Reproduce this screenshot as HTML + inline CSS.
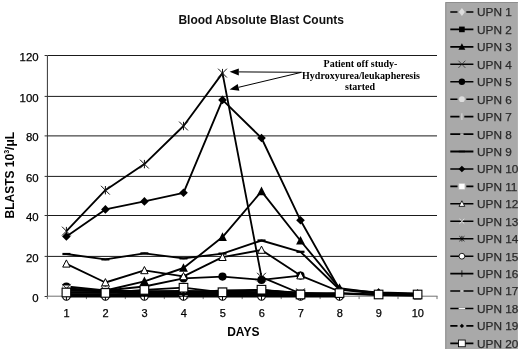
<!DOCTYPE html>
<html><head><meta charset="utf-8"><title>Blood Absolute Blast Counts</title>
<style>html,body{margin:0;padding:0;background:#fff}body{width:520px;height:351px;overflow:hidden}</style></head>
<body>
<svg width="520" height="351" viewBox="0 0 520 351" style="display:block">
<rect width="520" height="351" fill="#fff"/>
<line x1="47.4" x2="437.0" y1="256.4" y2="256.4" stroke="#1a1a1a" stroke-width="1"/>
<line x1="47.4" x2="437.0" y1="215.5" y2="215.5" stroke="#1a1a1a" stroke-width="1"/>
<line x1="47.4" x2="437.0" y1="176.4" y2="176.4" stroke="#1a1a1a" stroke-width="1"/>
<line x1="47.4" x2="437.0" y1="135.9" y2="135.9" stroke="#1a1a1a" stroke-width="1"/>
<line x1="47.4" x2="437.0" y1="96.4" y2="96.4" stroke="#1a1a1a" stroke-width="1"/>
<line x1="47.4" x2="437.0" y1="55.5" y2="55.5" stroke="#1a1a1a" stroke-width="1"/>
<line x1="47.4" x2="47.4" y1="55.8" y2="296.5" stroke="#333" stroke-width="1"/>
<line x1="47.4" x2="437.5" y1="296.2" y2="296.2" stroke="#707070" stroke-width="1"/>
<line x1="44.6" x2="47.4" y1="296.5" y2="296.5" stroke="#333" stroke-width="1"/>
<line x1="44.6" x2="47.4" y1="256.4" y2="256.4" stroke="#333" stroke-width="1"/>
<line x1="44.6" x2="47.4" y1="215.5" y2="215.5" stroke="#333" stroke-width="1"/>
<line x1="44.6" x2="47.4" y1="176.4" y2="176.4" stroke="#333" stroke-width="1"/>
<line x1="44.6" x2="47.4" y1="135.9" y2="135.9" stroke="#333" stroke-width="1"/>
<line x1="44.6" x2="47.4" y1="96.4" y2="96.4" stroke="#333" stroke-width="1"/>
<line x1="44.6" x2="47.4" y1="55.5" y2="55.5" stroke="#333" stroke-width="1"/>
<line x1="47.4" x2="47.4" y1="296.2" y2="299.1" stroke="#707070" stroke-width="1"/>
<line x1="86.4" x2="86.4" y1="296.2" y2="299.1" stroke="#707070" stroke-width="1"/>
<line x1="125.3" x2="125.3" y1="296.2" y2="299.1" stroke="#707070" stroke-width="1"/>
<line x1="164.3" x2="164.3" y1="296.2" y2="299.1" stroke="#707070" stroke-width="1"/>
<line x1="203.2" x2="203.2" y1="296.2" y2="299.1" stroke="#707070" stroke-width="1"/>
<line x1="242.2" x2="242.2" y1="296.2" y2="299.1" stroke="#707070" stroke-width="1"/>
<line x1="281.2" x2="281.2" y1="296.2" y2="299.1" stroke="#707070" stroke-width="1"/>
<line x1="320.1" x2="320.1" y1="296.2" y2="299.1" stroke="#707070" stroke-width="1"/>
<line x1="359.1" x2="359.1" y1="296.2" y2="299.1" stroke="#707070" stroke-width="1"/>
<line x1="398.0" x2="398.0" y1="296.2" y2="299.1" stroke="#707070" stroke-width="1"/>
<line x1="437.0" x2="437.0" y1="296.2" y2="299.1" stroke="#707070" stroke-width="1"/>
<g font-family="Liberation Sans, Arial, sans-serif" font-size="11" fill="#000" stroke="#000" stroke-width="0.25">
<text x="38.6" y="301.6" text-anchor="end" font-size="11.4">0</text>
<text x="38.6" y="261.5" text-anchor="end" font-size="11.4">20</text>
<text x="38.6" y="220.6" text-anchor="end" font-size="11.4">40</text>
<text x="38.6" y="181.5" text-anchor="end" font-size="11.4">60</text>
<text x="38.6" y="141.0" text-anchor="end" font-size="11.4">80</text>
<text x="38.6" y="101.5" text-anchor="end" font-size="11.4">100</text>
<text x="38.6" y="60.6" text-anchor="end" font-size="11.4">120</text>
<text x="66.6" y="317" text-anchor="middle">1</text>
<text x="105.6" y="317" text-anchor="middle">2</text>
<text x="144.6" y="317" text-anchor="middle">3</text>
<text x="183.7" y="317" text-anchor="middle">4</text>
<text x="222.7" y="317" text-anchor="middle">5</text>
<text x="261.7" y="317" text-anchor="middle">6</text>
<text x="300.7" y="317" text-anchor="middle">7</text>
<text x="339.7" y="317" text-anchor="middle">8</text>
<text x="378.8" y="317" text-anchor="middle">9</text>
<text x="417.8" y="317" text-anchor="middle">10</text>
</g>
<text x="261.2" y="24.2" text-anchor="middle" font-family="Liberation Sans, Arial, sans-serif" font-size="12" font-weight="bold" fill="#111">Blood Absolute Blast Counts</text>
<text x="243.3" y="336" text-anchor="middle" font-family="Liberation Sans, Arial, sans-serif" font-size="12" font-weight="bold" fill="#000">DAYS</text>
<text transform="translate(13.8,175.2) rotate(-90)" text-anchor="middle" font-family="Liberation Sans, Arial, sans-serif" font-size="12" font-weight="bold" fill="#000">BLASTS 10<tspan font-size="7" dy="-5">3</tspan><tspan dy="5">/μL</tspan></text>
<polyline points="66.4,294.1 105.4,294.5 144.4,294.5 183.5,293.9 222.5,294.5 261.5,294.1 300.5,294.9 339.5,295.5" fill="none" stroke="#000" stroke-width="1.85" stroke-linejoin="round"/>
<path d="M62.5 294.1L66.4 288.9L70.3 294.1L66.4 299.3Z" fill="#dcdcdc"/>
<path d="M101.5 294.5L105.4 289.3L109.3 294.5L105.4 299.7Z" fill="#dcdcdc"/>
<path d="M140.5 294.5L144.4 289.3L148.3 294.5L144.4 299.7Z" fill="#dcdcdc"/>
<path d="M179.6 293.9L183.5 288.7L187.4 293.9L183.5 299.1Z" fill="#dcdcdc"/>
<path d="M218.6 294.5L222.5 289.3L226.4 294.5L222.5 299.7Z" fill="#dcdcdc"/>
<path d="M257.6 294.1L261.5 288.9L265.4 294.1L261.5 299.3Z" fill="#dcdcdc"/>
<path d="M296.6 294.9L300.5 289.7L304.4 294.9L300.5 300.1Z" fill="#dcdcdc"/>
<path d="M335.6 295.5L339.5 290.3L343.4 295.5L339.5 300.7Z" fill="#dcdcdc"/>
<polyline points="66.4,289.3 105.4,290.7 144.4,291.9 183.5,291.7 222.5,291.7 261.5,290.5 300.5,292.9 339.5,293.5 378.6,295.1 417.6,295.9" fill="none" stroke="#000" stroke-width="1.85" stroke-linejoin="round"/>
<rect x="62.8" y="285.7" width="7.2" height="7.2" fill="#000"/>
<rect x="101.8" y="287.1" width="7.2" height="7.2" fill="#000"/>
<rect x="140.8" y="288.3" width="7.2" height="7.2" fill="#000"/>
<rect x="179.9" y="288.1" width="7.2" height="7.2" fill="#000"/>
<rect x="218.9" y="288.1" width="7.2" height="7.2" fill="#000"/>
<rect x="257.9" y="286.9" width="7.2" height="7.2" fill="#000"/>
<rect x="296.9" y="289.3" width="7.2" height="7.2" fill="#000"/>
<rect x="335.9" y="289.9" width="7.2" height="7.2" fill="#000"/>
<rect x="375.0" y="291.5" width="7.2" height="7.2" fill="#000"/>
<rect x="414.0" y="292.3" width="7.2" height="7.2" fill="#000"/>
<polyline points="66.4,290.5 105.4,290.5 144.4,281.3 183.5,268.0 222.5,237.1 261.5,191.4 300.5,240.7 339.5,288.1 378.6,293.1 417.6,294.1" fill="none" stroke="#000" stroke-width="1.85" stroke-linejoin="round"/>
<path d="M62.0 294.3L66.4 285.7L70.8 294.3Z" fill="#000"/>
<path d="M101.0 294.3L105.4 285.7L109.8 294.3Z" fill="#000"/>
<path d="M140.0 285.1L144.4 276.5L148.8 285.1Z" fill="#000"/>
<path d="M179.1 271.8L183.5 263.2L187.9 271.8Z" fill="#000"/>
<path d="M218.1 240.9L222.5 232.3L226.9 240.9Z" fill="#000"/>
<path d="M257.1 195.2L261.5 186.6L265.9 195.2Z" fill="#000"/>
<path d="M296.1 244.5L300.5 235.9L304.9 244.5Z" fill="#000"/>
<path d="M335.1 291.9L339.5 283.3L343.9 291.9Z" fill="#000"/>
<path d="M374.2 296.9L378.6 288.3L383.0 296.9Z" fill="#000"/>
<path d="M413.2 297.9L417.6 289.3L422.0 297.9Z" fill="#000"/>
<polyline points="66.4,231.1 105.4,190.2 144.4,164.1 183.5,126.0 222.5,73.1 261.5,277.2 300.5,293.5" fill="none" stroke="#000" stroke-width="1.85" stroke-linejoin="round"/>
<path d="M62.0 226.7L70.8 235.5M62.0 235.5L70.8 226.7M66.4 226.9L66.4 235.3" stroke="#111" stroke-width="1" fill="none"/>
<path d="M101.0 185.8L109.8 194.6M101.0 194.6L109.8 185.8M105.4 186.0L105.4 194.4" stroke="#111" stroke-width="1" fill="none"/>
<path d="M140.0 159.7L148.8 168.5M140.0 168.5L148.8 159.7M144.4 159.9L144.4 168.3" stroke="#111" stroke-width="1" fill="none"/>
<path d="M179.1 121.6L187.9 130.4M179.1 130.4L187.9 121.6M183.5 121.8L183.5 130.2" stroke="#111" stroke-width="1" fill="none"/>
<path d="M218.1 68.7L226.9 77.5M218.1 77.5L226.9 68.7M222.5 68.9L222.5 77.3" stroke="#111" stroke-width="1" fill="none"/>
<path d="M257.1 272.8L265.9 281.6M257.1 281.6L265.9 272.8M261.5 273.0L261.5 281.4" stroke="#111" stroke-width="1" fill="none"/>
<path d="M296.1 289.1L304.9 297.9M296.1 297.9L304.9 289.1M300.5 289.3L300.5 297.7" stroke="#111" stroke-width="1" fill="none"/>
<polyline points="66.4,286.5 105.4,290.5 144.4,286.5 183.5,278.4 222.5,276.6 261.5,279.9 300.5,275.6" fill="none" stroke="#000" stroke-width="1.85" stroke-linejoin="round"/>
<circle cx="66.4" cy="286.5" r="4.1" fill="#000"/>
<circle cx="105.4" cy="290.5" r="4.1" fill="#000"/>
<circle cx="144.4" cy="286.5" r="4.1" fill="#000"/>
<circle cx="183.5" cy="278.4" r="4.1" fill="#000"/>
<circle cx="222.5" cy="276.6" r="4.1" fill="#000"/>
<circle cx="261.5" cy="279.9" r="4.1" fill="#000"/>
<circle cx="300.5" cy="275.6" r="4.1" fill="#000"/>
<polyline points="66.4,295.5 105.4,295.5 144.4,295.1 183.5,295.5 222.5,295.3 261.5,295.5 300.5,295.5" fill="none" stroke="#000" stroke-width="1.85" stroke-linejoin="round"/>
<circle cx="66.4" cy="295.5" r="3.7" fill="#dedede"/>
<circle cx="105.4" cy="295.5" r="3.7" fill="#dedede"/>
<circle cx="144.4" cy="295.1" r="3.7" fill="#dedede"/>
<circle cx="183.5" cy="295.5" r="3.7" fill="#dedede"/>
<circle cx="222.5" cy="295.3" r="3.7" fill="#dedede"/>
<circle cx="261.5" cy="295.5" r="3.7" fill="#dedede"/>
<circle cx="300.5" cy="295.5" r="3.7" fill="#dedede"/>
<polyline points="66.4,290.1 105.4,291.3 144.4,293.7 183.5,292.5 222.5,293.5 261.5,292.5 300.5,294.5" fill="none" stroke="#000" stroke-width="1.85" stroke-linejoin="round"/>
<path d="M66.4 285.9L66.4 294.3" stroke="#e6e6e6" stroke-width="1.1" fill="none"/>
<path d="M105.4 287.1L105.4 295.5" stroke="#e6e6e6" stroke-width="1.1" fill="none"/>
<path d="M144.4 289.5L144.4 297.9" stroke="#e6e6e6" stroke-width="1.1" fill="none"/>
<path d="M183.5 288.3L183.5 296.7" stroke="#e6e6e6" stroke-width="1.1" fill="none"/>
<path d="M222.5 289.3L222.5 297.7" stroke="#e6e6e6" stroke-width="1.1" fill="none"/>
<path d="M261.5 288.3L261.5 296.7" stroke="#e6e6e6" stroke-width="1.1" fill="none"/>
<path d="M300.5 290.3L300.5 298.7" stroke="#e6e6e6" stroke-width="1.1" fill="none"/>
<polyline points="66.4,290.9 105.4,290.5 144.4,291.5 183.5,292.9 222.5,290.5 261.5,289.9 300.5,292.9 339.5,294.5" fill="none" stroke="#000" stroke-width="1.85" stroke-linejoin="round"/>
<path d="M64.3 290.9L68.5 290.9" stroke="#f4f4f4" stroke-width="1.7" fill="none"/>
<path d="M103.3 290.5L107.5 290.5" stroke="#f4f4f4" stroke-width="1.7" fill="none"/>
<path d="M142.3 291.5L146.5 291.5" stroke="#f4f4f4" stroke-width="1.7" fill="none"/>
<path d="M181.4 292.9L185.6 292.9" stroke="#f4f4f4" stroke-width="1.7" fill="none"/>
<path d="M220.4 290.5L224.6 290.5" stroke="#f4f4f4" stroke-width="1.7" fill="none"/>
<path d="M259.4 289.9L263.6 289.9" stroke="#f4f4f4" stroke-width="1.7" fill="none"/>
<path d="M298.4 292.9L302.6 292.9" stroke="#f4f4f4" stroke-width="1.7" fill="none"/>
<path d="M337.4 294.5L341.6 294.5" stroke="#f4f4f4" stroke-width="1.7" fill="none"/>
<polyline points="66.4,254.0 105.4,259.4 144.4,253.4 183.5,258.4 222.5,253.6 261.5,240.5 300.5,251.8 339.5,289.5 378.6,293.9 417.6,295.3" fill="none" stroke="#000" stroke-width="1.85" stroke-linejoin="round"/>
<path d="M62.4 254.0L70.4 254.0" stroke="#000" stroke-width="2.2" fill="none"/>
<path d="M101.4 259.4L109.4 259.4" stroke="#000" stroke-width="2.2" fill="none"/>
<path d="M140.4 253.4L148.4 253.4" stroke="#000" stroke-width="2.2" fill="none"/>
<path d="M179.5 258.4L187.5 258.4" stroke="#000" stroke-width="2.2" fill="none"/>
<path d="M218.5 253.6L226.5 253.6" stroke="#000" stroke-width="2.2" fill="none"/>
<path d="M257.5 240.5L265.5 240.5" stroke="#000" stroke-width="2.2" fill="none"/>
<path d="M296.5 251.8L304.5 251.8" stroke="#000" stroke-width="2.2" fill="none"/>
<path d="M335.5 289.5L343.5 289.5" stroke="#000" stroke-width="2.2" fill="none"/>
<path d="M374.6 293.9L382.6 293.9" stroke="#000" stroke-width="2.2" fill="none"/>
<path d="M413.6 295.3L421.6 295.3" stroke="#000" stroke-width="2.2" fill="none"/>
<polyline points="66.4,236.5 105.4,209.4 144.4,201.4 183.5,192.8 222.5,99.9 261.5,138.0 300.5,220.3 339.5,289.3 378.6,292.5 417.6,293.5" fill="none" stroke="#000" stroke-width="1.85" stroke-linejoin="round"/>
<path d="M62.1 236.5L66.4 232.2L70.7 236.5L66.4 240.8Z" fill="#000"/>
<path d="M101.1 209.4L105.4 205.1L109.7 209.4L105.4 213.7Z" fill="#000"/>
<path d="M140.1 201.4L144.4 197.1L148.7 201.4L144.4 205.7Z" fill="#000"/>
<path d="M179.2 192.8L183.5 188.5L187.8 192.8L183.5 197.1Z" fill="#000"/>
<path d="M218.2 99.9L222.5 95.6L226.8 99.9L222.5 104.2Z" fill="#000"/>
<path d="M257.2 138.0L261.5 133.7L265.8 138.0L261.5 142.3Z" fill="#000"/>
<path d="M296.2 220.3L300.5 216.0L304.8 220.3L300.5 224.6Z" fill="#000"/>
<path d="M335.2 289.3L339.5 285.0L343.8 289.3L339.5 293.6Z" fill="#000"/>
<path d="M374.3 292.5L378.6 288.2L382.9 292.5L378.6 296.8Z" fill="#000"/>
<path d="M413.3 293.5L417.6 289.2L421.9 293.5L417.6 297.8Z" fill="#000"/>
<polyline points="66.4,289.7 105.4,290.9 144.4,291.1 183.5,290.9 222.5,291.5 261.5,290.5 300.5,293.5 339.5,294.5" fill="none" stroke="#000" stroke-width="1.85" stroke-linejoin="round"/>
<rect x="62.5" y="285.8" width="7.8" height="7.8" fill="#fff" stroke="#bbb" stroke-width="0.8"/>
<rect x="101.5" y="287.0" width="7.8" height="7.8" fill="#fff" stroke="#bbb" stroke-width="0.8"/>
<rect x="140.5" y="287.2" width="7.8" height="7.8" fill="#fff" stroke="#bbb" stroke-width="0.8"/>
<rect x="179.6" y="287.0" width="7.8" height="7.8" fill="#fff" stroke="#bbb" stroke-width="0.8"/>
<rect x="218.6" y="287.6" width="7.8" height="7.8" fill="#fff" stroke="#bbb" stroke-width="0.8"/>
<rect x="257.6" y="286.6" width="7.8" height="7.8" fill="#fff" stroke="#bbb" stroke-width="0.8"/>
<rect x="296.6" y="289.6" width="7.8" height="7.8" fill="#fff" stroke="#bbb" stroke-width="0.8"/>
<rect x="335.6" y="290.6" width="7.8" height="7.8" fill="#fff" stroke="#bbb" stroke-width="0.8"/>
<polyline points="66.4,263.8 105.4,282.5 144.4,270.4 183.5,276.4 222.5,257.2 261.5,250.0 300.5,275.6 339.5,291.5" fill="none" stroke="#000" stroke-width="1.85" stroke-linejoin="round"/>
<path d="M62.7 267.1L66.4 259.9L70.1 267.1Z" fill="#fff" stroke="#000" stroke-width="1"/>
<path d="M101.7 285.8L105.4 278.6L109.1 285.8Z" fill="#fff" stroke="#000" stroke-width="1"/>
<path d="M140.7 273.7L144.4 266.5L148.1 273.7Z" fill="#fff" stroke="#000" stroke-width="1"/>
<path d="M179.8 279.7L183.5 272.5L187.2 279.7Z" fill="#fff" stroke="#000" stroke-width="1"/>
<path d="M218.8 260.5L222.5 253.3L226.2 260.5Z" fill="#fff" stroke="#000" stroke-width="1"/>
<path d="M257.8 253.3L261.5 246.1L265.2 253.3Z" fill="#fff" stroke="#000" stroke-width="1"/>
<path d="M296.8 278.9L300.5 271.7L304.2 278.9Z" fill="#fff" stroke="#000" stroke-width="1"/>
<path d="M335.8 294.8L339.5 287.6L343.2 294.8Z" fill="#fff" stroke="#000" stroke-width="1"/>
<polyline points="66.4,294.9 105.4,294.5 144.4,294.9 183.5,294.5 222.5,293.5 261.5,294.5 300.5,294.9" fill="none" stroke="#000" stroke-width="1.85" stroke-linejoin="round"/>
<path d="M63.4 291.9L69.4 297.9M63.4 297.9L69.4 291.9" stroke="#fff" stroke-width="1" fill="none"/>
<path d="M102.4 291.5L108.4 297.5M102.4 297.5L108.4 291.5" stroke="#fff" stroke-width="1" fill="none"/>
<path d="M141.4 291.9L147.4 297.9M141.4 297.9L147.4 291.9" stroke="#fff" stroke-width="1" fill="none"/>
<path d="M180.5 291.5L186.5 297.5M180.5 297.5L186.5 291.5" stroke="#fff" stroke-width="1" fill="none"/>
<path d="M219.5 290.5L225.5 296.5M219.5 296.5L225.5 290.5" stroke="#fff" stroke-width="1" fill="none"/>
<path d="M258.5 291.5L264.5 297.5M258.5 297.5L264.5 291.5" stroke="#fff" stroke-width="1" fill="none"/>
<path d="M297.5 291.9L303.5 297.9M297.5 297.9L303.5 291.9" stroke="#fff" stroke-width="1" fill="none"/>
<polyline points="66.4,288.5 105.4,290.7 144.4,292.5 183.5,294.1 222.5,292.5 261.5,292.1 300.5,292.9" fill="none" stroke="#000" stroke-width="1.85" stroke-linejoin="round"/>
<path d="M62.0 283.9L70.8 293.1M62.0 293.1L70.8 283.9" stroke="#222" stroke-width="0.9" fill="none"/>
<path d="M101.0 286.1L109.8 295.3M101.0 295.3L109.8 286.1" stroke="#222" stroke-width="0.9" fill="none"/>
<path d="M140.0 287.9L148.8 297.1M140.0 297.1L148.8 287.9" stroke="#222" stroke-width="0.9" fill="none"/>
<path d="M179.1 289.5L187.9 298.7M179.1 298.7L187.9 289.5" stroke="#222" stroke-width="0.9" fill="none"/>
<path d="M218.1 287.9L226.9 297.1M218.1 297.1L226.9 287.9" stroke="#222" stroke-width="0.9" fill="none"/>
<path d="M257.1 287.5L265.9 296.7M257.1 296.7L265.9 287.5" stroke="#222" stroke-width="0.9" fill="none"/>
<path d="M296.1 288.3L304.9 297.5M296.1 297.5L304.9 288.3" stroke="#222" stroke-width="0.9" fill="none"/>
<polyline points="66.4,296.5 105.4,296.5 144.4,296.5 183.5,296.5 222.5,296.5 261.5,296.5 300.5,296.5 339.5,296.5" fill="none" stroke="#000" stroke-width="1.85" stroke-linejoin="round"/>
<circle cx="66.4" cy="296.5" r="3.7" fill="#fff" stroke="#000" stroke-width="1.1"/>
<circle cx="105.4" cy="296.5" r="3.7" fill="#fff" stroke="#000" stroke-width="1.1"/>
<circle cx="144.4" cy="296.5" r="3.7" fill="#fff" stroke="#000" stroke-width="1.1"/>
<circle cx="183.5" cy="296.5" r="3.7" fill="#fff" stroke="#000" stroke-width="1.1"/>
<circle cx="222.5" cy="296.5" r="3.7" fill="#fff" stroke="#000" stroke-width="1.1"/>
<circle cx="261.5" cy="296.5" r="3.7" fill="#fff" stroke="#000" stroke-width="1.1"/>
<circle cx="300.5" cy="296.5" r="3.7" fill="#fff" stroke="#000" stroke-width="1.1"/>
<circle cx="339.5" cy="296.5" r="3.7" fill="#fff" stroke="#000" stroke-width="1.1"/>
<polyline points="66.4,295.9 105.4,295.9 144.4,295.7 183.5,295.9 222.5,295.9 261.5,295.7 300.5,295.9 339.5,296.1" fill="none" stroke="#000" stroke-width="1.85" stroke-linejoin="round"/>
<path d="M66.4 291.7L66.4 300.1" stroke="#000" stroke-width="1" fill="none"/>
<path d="M105.4 291.7L105.4 300.1" stroke="#000" stroke-width="1" fill="none"/>
<path d="M144.4 291.5L144.4 299.9" stroke="#000" stroke-width="1" fill="none"/>
<path d="M183.5 291.7L183.5 300.1" stroke="#000" stroke-width="1" fill="none"/>
<path d="M222.5 291.7L222.5 300.1" stroke="#000" stroke-width="1" fill="none"/>
<path d="M261.5 291.5L261.5 299.9" stroke="#000" stroke-width="1" fill="none"/>
<path d="M300.5 291.7L300.5 300.1" stroke="#000" stroke-width="1" fill="none"/>
<path d="M339.5 291.9L339.5 300.3" stroke="#000" stroke-width="1" fill="none"/>
<polyline points="66.4,294.7 105.4,294.5 144.4,293.5 183.5,292.5 222.5,292.9 261.5,293.5 300.5,294.5" fill="none" stroke="#000" stroke-width="1.85" stroke-linejoin="round"/>
<path d="M64.3 294.7L68.5 294.7" stroke="#f4f4f4" stroke-width="1.7" fill="none"/>
<path d="M103.3 294.5L107.5 294.5" stroke="#f4f4f4" stroke-width="1.7" fill="none"/>
<path d="M142.3 293.5L146.5 293.5" stroke="#f4f4f4" stroke-width="1.7" fill="none"/>
<path d="M181.4 292.5L185.6 292.5" stroke="#f4f4f4" stroke-width="1.7" fill="none"/>
<path d="M220.4 292.9L224.6 292.9" stroke="#f4f4f4" stroke-width="1.7" fill="none"/>
<path d="M259.4 293.5L263.6 293.5" stroke="#f4f4f4" stroke-width="1.7" fill="none"/>
<path d="M298.4 294.5L302.6 294.5" stroke="#f4f4f4" stroke-width="1.7" fill="none"/>
<polyline points="66.4,295.3 105.4,294.9 144.4,293.9 183.5,294.9 222.5,294.5 261.5,294.1 300.5,295.3" fill="none" stroke="#000" stroke-width="1.85" stroke-linejoin="round"/>
<path d="M62.2 295.3L70.6 295.3" stroke="#f4f4f4" stroke-width="1.7" fill="none"/>
<path d="M101.2 294.9L109.6 294.9" stroke="#f4f4f4" stroke-width="1.7" fill="none"/>
<path d="M140.2 293.9L148.6 293.9" stroke="#f4f4f4" stroke-width="1.7" fill="none"/>
<path d="M179.3 294.9L187.7 294.9" stroke="#f4f4f4" stroke-width="1.7" fill="none"/>
<path d="M218.3 294.5L226.7 294.5" stroke="#f4f4f4" stroke-width="1.7" fill="none"/>
<path d="M257.3 294.1L265.7 294.1" stroke="#f4f4f4" stroke-width="1.7" fill="none"/>
<path d="M296.3 295.3L304.7 295.3" stroke="#f4f4f4" stroke-width="1.7" fill="none"/>
<polyline points="66.4,294.5 105.4,295.1 144.4,294.5 183.5,294.1 222.5,294.9 261.5,294.5 300.5,295.5" fill="none" stroke="#000" stroke-width="1.85" stroke-linejoin="round"/>
<path d="M63.6 294.5L66.4 291.7L69.2 294.5L66.4 297.3Z" fill="#000"/>
<path d="M102.6 295.1L105.4 292.3L108.2 295.1L105.4 297.9Z" fill="#000"/>
<path d="M141.6 294.5L144.4 291.7L147.2 294.5L144.4 297.3Z" fill="#000"/>
<path d="M180.7 294.1L183.5 291.3L186.3 294.1L183.5 296.9Z" fill="#000"/>
<path d="M219.7 294.9L222.5 292.1L225.3 294.9L222.5 297.7Z" fill="#000"/>
<path d="M258.7 294.5L261.5 291.7L264.3 294.5L261.5 297.3Z" fill="#000"/>
<path d="M297.7 295.5L300.5 292.7L303.3 295.5L300.5 298.3Z" fill="#000"/>
<polyline points="66.4,292.5 105.4,292.9 144.4,289.9 183.5,287.7 222.5,292.3 261.5,289.7 300.5,294.5 339.5,293.1 378.6,294.5 417.6,294.5" fill="none" stroke="#000" stroke-width="1.85" stroke-linejoin="round"/>
<rect x="62.1" y="288.2" width="8.6" height="8.6" fill="#fff" stroke="#000" stroke-width="1.1"/>
<rect x="101.1" y="288.6" width="8.6" height="8.6" fill="#fff" stroke="#000" stroke-width="1.1"/>
<rect x="140.1" y="285.6" width="8.6" height="8.6" fill="#fff" stroke="#000" stroke-width="1.1"/>
<rect x="179.2" y="283.4" width="8.6" height="8.6" fill="#fff" stroke="#000" stroke-width="1.1"/>
<rect x="218.2" y="288.0" width="8.6" height="8.6" fill="#fff" stroke="#000" stroke-width="1.1"/>
<rect x="257.2" y="285.4" width="8.6" height="8.6" fill="#fff" stroke="#000" stroke-width="1.1"/>
<rect x="296.2" y="290.2" width="8.6" height="8.6" fill="#fff" stroke="#000" stroke-width="1.1"/>
<rect x="335.2" y="288.8" width="8.6" height="8.6" fill="#fff" stroke="#000" stroke-width="1.1"/>
<rect x="374.3" y="290.2" width="8.6" height="8.6" fill="#fff" stroke="#000" stroke-width="1.1"/>
<rect x="413.3" y="290.2" width="8.6" height="8.6" fill="#fff" stroke="#000" stroke-width="1.1"/>
<g font-family="Liberation Serif, Times New Roman, serif" font-size="10" font-weight="bold" fill="#000" text-anchor="middle">
<text x="360.5" y="66.8">Patient off study-</text>
<text x="361" y="78.8">Hydroxyurea/leukapheresis</text>
<text x="360" y="89.8">started</text>
</g>
<line x1="301.5" y1="72.3" x2="238.8" y2="71.9" stroke="#000" stroke-width="1"/><path d="M229.6 71.8L238.8 75.4L238.8 68.4Z" fill="#000"/>
<line x1="301.5" y1="72.3" x2="238.6" y2="87.3" stroke="#000" stroke-width="1"/><path d="M229.6 89.4L239.4 90.7L237.7 83.9Z" fill="#000"/>
<rect x="445.3" y="2" width="72.6" height="347" fill="#a9a9a9"/><path d="M445.8 349V2.5H517.9" fill="none" stroke="#8e8e8e" stroke-width="1"/>
<clipPath id="lc"><rect x="445.3" y="2" width="73.4" height="347"/></clipPath>
<g font-family="Liberation Sans, Arial, sans-serif" font-size="11.8" fill="#2a2a2a" clip-path="url(#lc)">
<line x1="450.3" x2="473.4" y1="12.0" y2="12.0" stroke="#000" stroke-width="1.6"/>
<rect x="457.5" y="10.0" width="8.8" height="4" fill="#a9a9a9"/>
<g transform="translate(461.9,12.0) scale(0.78)"><path d="M-3.9 0.0L0.0 -5.2L3.9 0.0L0.0 5.2Z" fill="#dcdcdc"/></g>
<text x="477" y="16.4" stroke="#2a2a2a" stroke-width="0.25">UPN 1</text>
<line x1="450.3" x2="473.4" y1="29.4" y2="29.4" stroke="#000" stroke-width="1.6"/>
<g transform="translate(461.9,29.4) scale(0.78)"><rect x="-3.6" y="-3.6" width="7.2" height="7.2" fill="#000"/></g>
<text x="477" y="33.8" stroke="#2a2a2a" stroke-width="0.25">UPN 2</text>
<line x1="450.3" x2="473.4" y1="46.9" y2="46.9" stroke="#000" stroke-width="1.6"/>
<g transform="translate(461.9,46.9) scale(0.78)"><path d="M-4.4 3.8L0.0 -4.8L4.4 3.8Z" fill="#000"/></g>
<text x="477" y="51.3" stroke="#2a2a2a" stroke-width="0.25">UPN 3</text>
<line x1="450.3" x2="473.4" y1="64.3" y2="64.3" stroke="#000" stroke-width="1.6"/>
<g transform="translate(461.9,64.3) scale(0.78)"><path d="M-4.4 -4.6L4.4 4.6M-4.4 4.6L4.4 -4.6" stroke="#222" stroke-width="0.9" fill="none"/></g>
<text x="477" y="68.7" stroke="#2a2a2a" stroke-width="0.25">UPN 4</text>
<line x1="450.3" x2="473.4" y1="81.8" y2="81.8" stroke="#000" stroke-width="1.6"/>
<g transform="translate(461.9,81.8) scale(0.78)"><circle cx="0.0" cy="0.0" r="4.1" fill="#000"/></g>
<text x="477" y="86.2" stroke="#2a2a2a" stroke-width="0.25">UPN 5</text>
<line x1="450.3" x2="473.4" y1="99.2" y2="99.2" stroke="#000" stroke-width="1.6"/>
<rect x="457.5" y="97.2" width="8.8" height="4" fill="#a9a9a9"/>
<g transform="translate(461.9,99.2) scale(0.78)"><circle cx="0.0" cy="0.0" r="3.7" fill="#dedede"/></g>
<text x="477" y="103.6" stroke="#2a2a2a" stroke-width="0.25">UPN 6</text>
<line x1="450.3" x2="473.4" y1="116.6" y2="116.6" stroke="#000" stroke-width="1.6"/>
<rect x="459.5" y="114.6" width="4.8" height="4" fill="#a9a9a9"/>
<g transform="translate(461.9,116.6) scale(0.78)"><path d="M0.0 -4.2L0.0 4.2" stroke="#e6e6e6" stroke-width="1.1" fill="none"/></g>
<text x="477" y="121.0" stroke="#2a2a2a" stroke-width="0.25">UPN 7</text>
<line x1="450.3" x2="473.4" y1="134.1" y2="134.1" stroke="#000" stroke-width="1.6"/>
<g transform="translate(461.9,134.1) scale(0.78)"><path d="M-2.1 0.0L2.1 0.0" stroke="#f4f4f4" stroke-width="1.7" fill="none"/></g>
<text x="477" y="138.5" stroke="#2a2a2a" stroke-width="0.25">UPN 8</text>
<line x1="450.3" x2="473.4" y1="151.5" y2="151.5" stroke="#000" stroke-width="2.2"/>
<g transform="translate(461.9,151.5) scale(0.78)"><path d="M-4.0 0.0L4.0 0.0" stroke="#000" stroke-width="2.2" fill="none"/></g>
<text x="477" y="155.9" stroke="#2a2a2a" stroke-width="0.25">UPN 9</text>
<line x1="450.3" x2="473.4" y1="169.0" y2="169.0" stroke="#000" stroke-width="1.6"/>
<g transform="translate(461.9,169.0) scale(0.78)"><path d="M-4.3 0.0L0.0 -4.3L4.3 0.0L0.0 4.3Z" fill="#000"/></g>
<text x="477" y="173.4" stroke="#2a2a2a" stroke-width="0.25">UPN 10</text>
<line x1="450.3" x2="473.4" y1="186.4" y2="186.4" stroke="#000" stroke-width="1.6"/>
<rect x="457.5" y="184.4" width="8.8" height="4" fill="#a9a9a9"/>
<g transform="translate(461.9,186.4) scale(0.78)"><rect x="-3.9" y="-3.9" width="7.8" height="7.8" fill="#fff" stroke="#bbb" stroke-width="0.8"/></g>
<text x="477" y="190.8" stroke="#2a2a2a" stroke-width="0.25">UPN 11</text>
<line x1="450.3" x2="473.4" y1="203.8" y2="203.8" stroke="#000" stroke-width="1.6"/>
<g transform="translate(461.9,203.8) scale(0.78)"><path d="M-3.7 3.3L0.0 -3.9L3.7 3.3Z" fill="#fff" stroke="#000" stroke-width="1"/></g>
<text x="477" y="208.2" stroke="#2a2a2a" stroke-width="0.25">UPN 12</text>
<line x1="450.3" x2="473.4" y1="221.3" y2="221.3" stroke="#000" stroke-width="1.6"/>
<g transform="translate(461.9,221.3) scale(0.78)"><path d="M-3.0 -3.0L3.0 3.0M-3.0 3.0L3.0 -3.0" stroke="#fff" stroke-width="1" fill="none"/></g>
<text x="477" y="225.7" stroke="#2a2a2a" stroke-width="0.25">UPN 13</text>
<line x1="450.3" x2="473.4" y1="238.7" y2="238.7" stroke="#000" stroke-width="1.6"/>
<g transform="translate(461.9,238.7) scale(0.78)"><path d="M-3.2 -3.2L3.2 3.2M-3.2 3.2L3.2 -3.2M0.0 -3.6L0.0 3.6" stroke="#000" stroke-width="1" fill="none"/></g>
<text x="477" y="243.1" stroke="#2a2a2a" stroke-width="0.25">UPN 14</text>
<line x1="450.3" x2="473.4" y1="256.2" y2="256.2" stroke="#000" stroke-width="1.6"/>
<g transform="translate(461.9,256.2) scale(0.78)"><circle cx="0.0" cy="0.0" r="3.7" fill="#fff" stroke="#000" stroke-width="1.1"/></g>
<text x="477" y="260.6" stroke="#2a2a2a" stroke-width="0.25">UPN 15</text>
<line x1="450.3" x2="473.4" y1="273.6" y2="273.6" stroke="#000" stroke-width="1.6"/>
<g transform="translate(461.9,273.6) scale(0.78)"><path d="M0.0 -4.2L0.0 4.2" stroke="#000" stroke-width="1" fill="none"/></g>
<text x="477" y="278.0" stroke="#2a2a2a" stroke-width="0.25">UPN 16</text>
<line x1="450.3" x2="473.4" y1="291.0" y2="291.0" stroke="#000" stroke-width="1.6"/>
<g transform="translate(461.9,291.0) scale(0.78)"><path d="M-2.1 0.0L2.1 0.0" stroke="#f4f4f4" stroke-width="1.7" fill="none"/></g>
<text x="477" y="295.4" stroke="#2a2a2a" stroke-width="0.25">UPN 17</text>
<line x1="450.3" x2="473.4" y1="308.5" y2="308.5" stroke="#000" stroke-width="1.6"/>
<g transform="translate(461.9,308.5) scale(0.78)"><path d="M-4.2 0.0L4.2 0.0" stroke="#f4f4f4" stroke-width="1.7" fill="none"/></g>
<text x="477" y="312.9" stroke="#2a2a2a" stroke-width="0.25">UPN 18</text>
<line x1="450.3" x2="473.4" y1="325.9" y2="325.9" stroke="#000" stroke-width="1.6"/>
<rect x="457.5" y="323.9" width="8.8" height="4" fill="#a9a9a9"/>
<g transform="translate(461.9,325.9) scale(0.78)"><path d="M-2.8 0.0L0.0 -2.8L2.8 0.0L0.0 2.8Z" fill="#000"/></g>
<text x="477" y="330.3" stroke="#2a2a2a" stroke-width="0.25">UPN 19</text>
<line x1="450.3" x2="473.4" y1="343.4" y2="343.4" stroke="#000" stroke-width="1.6"/>
<g transform="translate(461.9,343.4) scale(0.78)"><rect x="-4.3" y="-4.3" width="8.6" height="8.6" fill="#fff" stroke="#000" stroke-width="1.1"/></g>
<text x="477" y="347.8" stroke="#2a2a2a" stroke-width="0.25">UPN 20</text>
</g>
</svg>
</body></html>
